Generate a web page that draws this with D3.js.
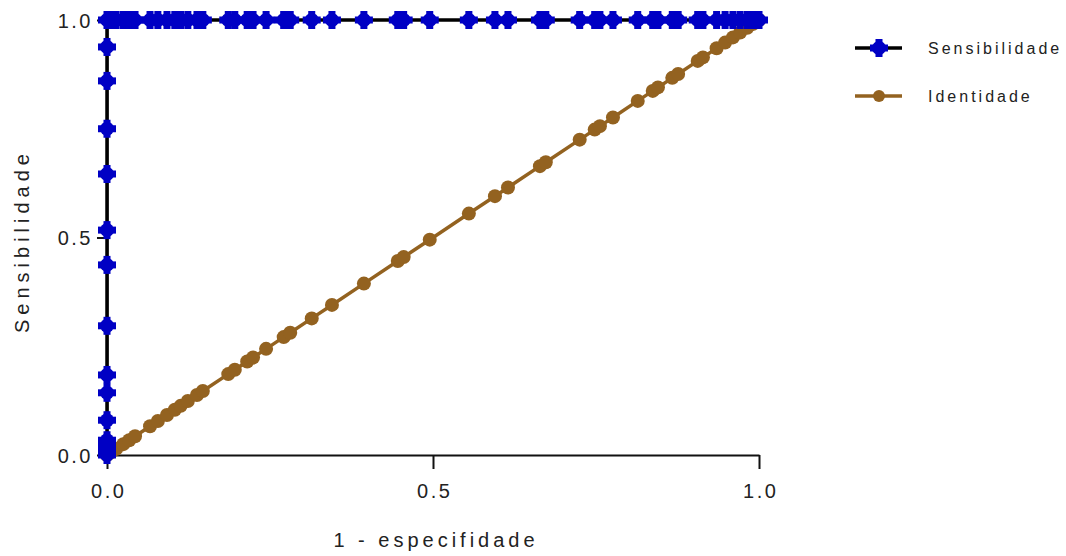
<!DOCTYPE html>
<html>
<head>
<meta charset="utf-8">
<script src="https://cdn.jsdelivr.net/npm/d3@7"></script>
<style>
  body { margin: 0; background: #fff; }
  svg text { font-family: "Liberation Sans", Arial, sans-serif; fill: #222; }
</style>
</head>
<body>
<svg id="chart" width="1066" height="556"></svg>
<script>
// valori (1 - especificidade)
const umMenosEspecificidade = [0, 0.006, 0.014, 0.025, 0.034, 0.043, 0.066, 0.078, 0.092, 0.104,
  0.113, 0.124, 0.138, 0.147, 0.186, 0.196, 0.215, 0.224, 0.244, 0.271, 0.281, 0.314, 0.345,
  0.394, 0.446, 0.455, 0.495, 0.555, 0.595, 0.615, 0.664, 0.673, 0.725, 0.748, 0.756, 0.776,
  0.814, 0.837, 0.845, 0.867, 0.876, 0.906, 0.914, 0.935, 0.948, 0.96, 0.971, 0.982, 0.991, 1];

// sensibilidade com 1 - especificidade = 0
const sensibilidadeInicial = [0, 0.011, 0.023, 0.034, 0.08, 0.143, 0.184, 0.297, 0.437,
  0.517, 0.646, 0.75, 0.86, 0.938, 1];

// linha de identidade
const identidade = [0, 0.006, 0.014, 0.025, 0.034, 0.043, 0.066, 0.078, 0.092, 0.104,
  0.113, 0.124, 0.138, 0.147, 0.186, 0.196, 0.215, 0.224, 0.244, 0.271, 0.281, 0.314, 0.345,
  0.394, 0.446, 0.455, 0.495, 0.555, 0.595, 0.615, 0.664, 0.673, 0.725, 0.748, 0.756, 0.776,
  0.814, 0.837, 0.845, 0.867, 0.876, 0.906, 0.914, 0.935, 0.948, 0.96, 0.971, 0.982, 0.991, 1];

const ticks = [0, 0.5, 1];
const seriesNames = ["Sensibilidade", "Identidade"];

const blue = "#0000c4", brown = "#936220";

const svg = d3.select("#chart");
const x = d3.scaleLinear().domain([0, 1]).range([107, 759]);
const y = d3.scaleLinear().domain([0, 1]).range([455, 20]);

// punti delle serie
const sensPoints = sensibilidadeInicial.map(v => [0, v])
  .concat(umMenosEspecificidade.filter(v => v > 0).map(v => [v, 1]));
const identPoints = umMenosEspecificidade.map((v, i) => [v, identidade[i]]);

// marker a croce arrotondata
function crossMarker(g) {
  g.append("circle").attr("r", 7).attr("fill", blue);
  g.append("rect").attr("x", -9).attr("y", -3.5).attr("width", 18).attr("height", 7).attr("fill", blue);
  g.append("rect").attr("x", -3.5).attr("y", -9).attr("width", 7).attr("height", 18).attr("fill", blue);
}

// assi
const xAxis = svg.append("g").attr("transform", "translate(0,455)")
  .call(d3.axisBottom(x).tickValues(ticks).tickFormat(d3.format(".1f")).tickSize(14).tickSizeOuter(0));
const yAxis = svg.append("g").attr("transform", "translate(107,0)")
  .call(d3.axisLeft(y).tickValues(ticks).tickFormat(d3.format(".1f")).tickSize(10).tickSizeOuter(0));

[xAxis, yAxis].forEach(a => {
  a.select(".domain").attr("stroke", "#111").attr("stroke-width", 2);
  a.selectAll(".tick line").attr("stroke", "#111").attr("stroke-width", 2);
  a.selectAll("text").attr("font-size", 20).attr("fill", "#222")
    .style("letter-spacing", "2.5px");
});
xAxis.selectAll("text").attr("y", 29).attr("dx", "1.2px");
yAxis.selectAll("text").attr("x", -14).attr("dy", "0.35em");

// linea identita
svg.append("path")
  .datum(identPoints)
  .attr("fill", "none")
  .attr("stroke", brown)
  .attr("stroke-width", 3.5)
  .attr("d", d3.line().x(d => x(d[0])).y(d => y(d[1])));

svg.append("g").selectAll("circle")
  .data(identPoints)
  .enter()
  .append("circle")
  .attr("cx", d => x(d[0]))
  .attr("cy", d => y(d[1]))
  .attr("r", 7)
  .attr("fill", brown);

// curva ROC
svg.append("path")
  .datum(sensPoints)
  .attr("fill", "none")
  .attr("stroke", "#000")
  .attr("stroke-width", 3.5)
  .attr("d", d3.line().x(d => x(d[0])).y(d => y(d[1])));

svg.append("g").selectAll("g")
  .data(sensPoints)
  .enter()
  .append("g")
  .attr("transform", d => `translate(${x(d[0])},${y(d[1])})`)
  .each(function() { crossMarker(d3.select(this)); });

// titoli assi
svg.append("text")
  .attr("x", 436).attr("y", 547)
  .attr("text-anchor", "middle")
  .attr("font-size", 20)
  .style("letter-spacing", "4px")
  .text("1 - especifidade");

svg.append("text")
  .attr("transform", "translate(29,241) rotate(-90)")
  .attr("text-anchor", "middle")
  .attr("font-size", 20)
  .style("letter-spacing", "5px")
  .text("Sensibilidade");

// legenda
const legend = svg.append("g").attr("transform", "translate(855,0)");
const legendColors = [["#000", blue], [brown, brown]];
seriesNames.forEach((name, i) => {
  const ly = 48 + i * 48;
  legend.append("line")
    .attr("x1", 0).attr("x2", 47).attr("y1", ly).attr("y2", ly)
    .attr("stroke", legendColors[i][0]).attr("stroke-width", 3.5);
  if (i === 0) {
    crossMarker(legend.append("g").attr("transform", `translate(24,${ly})`));
  } else {
    legend.append("circle").attr("cx", 24).attr("cy", ly).attr("r", 6).attr("fill", brown);
  }
  legend.append("text")
    .attr("x", 73).attr("y", ly + 6)
    .attr("font-size", 16)
    .style("letter-spacing", "3px")
    .text(name);
});
</script>
</body>
</html>
